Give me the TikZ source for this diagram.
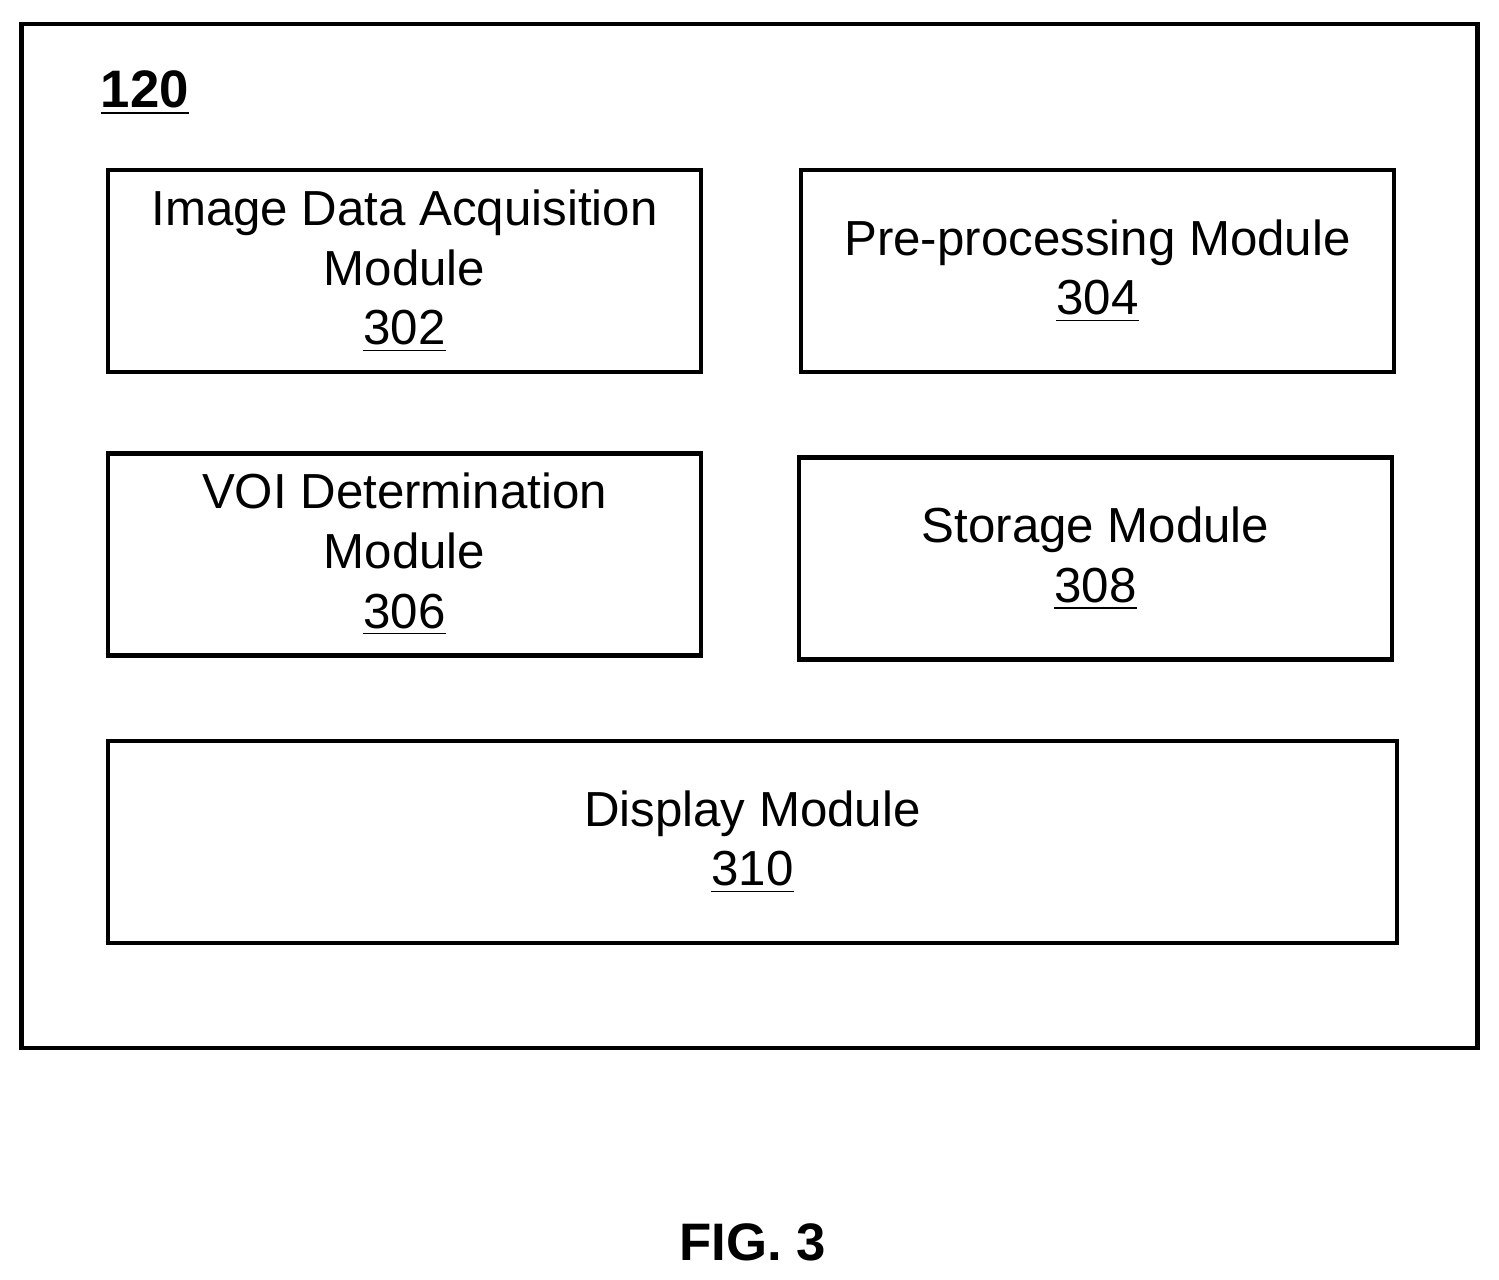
\documentclass[tikz,border=0pt]{standalone}
\usepackage{fontspec}
\setmainfont{Liberation Sans}
\usetikzlibrary{positioning}
\begin{document}
\begin{tikzpicture}[x=0.01cm,y=-0.01cm,every node/.style={rectangle, draw, line width=1.2pt, font=\fontsize{14}{17}\selectfont, align=center, minimum height=2.02cm, inner sep=0pt}]
	\useasboundingbox (0,0) rectangle (1499,1280);
	\node[minimum width=14.55cm, minimum height=10.24cm](sys) at (749.5,536) {};
	\node[draw=none, minimum height=0pt, font=\fontsize{15}{18}\selectfont\bfseries](label) at (145,93) {\underline{120}};
	\node[minimum width=5.93cm](acq) at (404.5,271) {Image Data Acquisition\\Module\\\underline{302}};
	\node[minimum width=5.93cm](pre) at (1097.5,271) {Pre-processing Module\\\underline{304}};
	\node[minimum width=5.93cm](voi) at (404.5,554.5) {VOI Determination\\Module\\\underline{306}};
	\node[minimum width=5.93cm](sto) at (1095.5,558.5) {Storage Module\\\underline{308}};
	\node[minimum width=12.89cm](disp) at (752.5,842) {Display Module\\\underline{310}};
	% caption
	\node[draw=none, minimum height=0pt, font=\fontsize{15}{18}\selectfont\bfseries](fig) at (753,1242) {FIG. 3};
\end{tikzpicture}
\end{document}
